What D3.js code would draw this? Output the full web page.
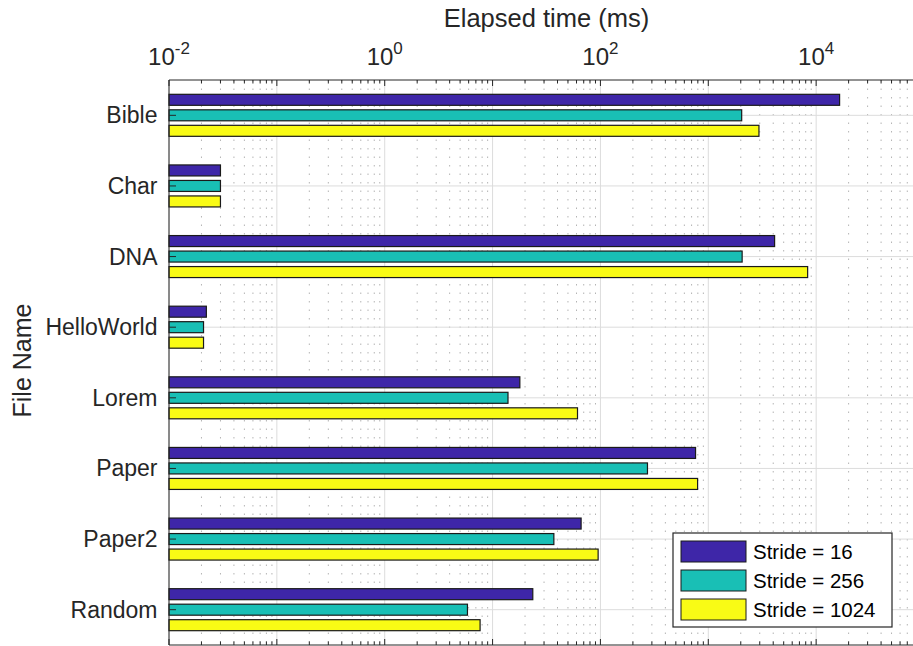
<!DOCTYPE html>
<html>
<head>
<meta charset="utf-8">
<script src="https://cdn.jsdelivr.net/npm/d3@7"></script>
<style>
  body { margin: 0; background: #fff; }
  svg { display: block; font-family: "Liberation Sans", Arial, sans-serif; }
</style>
</head>
<body>
<div id="chart"></div>
<script>
const files = ["Bible", "Char", "DNA", "HelloWorld", "Lorem", "Paper", "Paper2", "Random"];
const seriesNames = ["Stride = 16", "Stride = 256", "Stride = 1024"];
const stride16 = [16500, 0.030, 4120, 0.0222, 17.9, 762, 66.2, 23.6];
const stride256 = [2040, 0.030, 2060, 0.0209, 13.9, 273, 37, 5.85];
const stride1024 = [2950, 0.030, 8340, 0.0209, 61.3, 796, 95.2, 7.66];
const xTickExps = [-2, 0, 2, 4];

const colors = ["#3e26a8", "#19bfb5", "#f9fb15"];

const width = 913, height = 646;
const margin = { top: 80, left: 169, right: 924, bottom: 645 };

const svg = d3.select("#chart").append("svg")
  .attr("width", width)
  .attr("height", height);

const x = d3.scaleLog()
  .domain([1e-2, 1e5])
  .range([margin.left, margin.right]);

const y = d3.scaleBand()
  .domain(files)
  .range([margin.top, margin.bottom]);

const yInner = d3.scalePoint()
  .domain(seriesNames)
  .range([-15.5, 15.5]);

const barH = 11;

// grid: minor dotted, major solid
const minor = [];
for (let e = -2; e < 5; e++) {
  for (let m = 2; m <= 9; m++) minor.push(m * Math.pow(10, e));
}
const major = d3.range(-2, 6).map(e => Math.pow(10, e));

const grid = svg.append("g");
grid.selectAll(".minor")
  .data(minor)
  .join("line")
  .attr("x1", d => x(d)).attr("x2", d => x(d))
  .attr("y1", margin.top).attr("y2", margin.bottom)
  .attr("stroke", "#b4b4b4")
  .attr("stroke-width", 1)
  .attr("stroke-dasharray", "1.5,7");

grid.selectAll(".major")
  .data(major)
  .join("line")
  .attr("x1", d => x(d)).attr("x2", d => x(d))
  .attr("y1", margin.top).attr("y2", margin.bottom)
  .attr("stroke", "#dcdcdc")
  .attr("stroke-width", 1);

grid.selectAll(".hgrid")
  .data(files)
  .join("line")
  .attr("x1", margin.left).attr("x2", margin.right)
  .attr("y1", d => y(d) + y.bandwidth() / 2)
  .attr("y2", d => y(d) + y.bandwidth() / 2)
  .attr("stroke", "#dcdcdc")
  .attr("stroke-width", 1);

// bars
const table = [];
files.forEach((f, i) => {
  [stride16, stride256, stride1024].forEach((arr, j) => {
    table.push({ file: f, series: seriesNames[j], value: arr[i], k: j });
  });
});

svg.append("g")
  .selectAll("rect")
  .data(table)
  .join("rect")
  .attr("x", x(1e-2))
  .attr("y", d => y(d.file) + y.bandwidth() / 2 + yInner(d.series) - barH / 2)
  .attr("width", d => x(d.value) - x(1e-2))
  .attr("height", barH)
  .attr("fill", d => colors[d.k])
  .attr("stroke", "#1a1a1a")
  .attr("stroke-width", 1.2);

// axes frame
const axisColor = "#262626";
svg.append("line")
  .attr("x1", margin.left).attr("x2", margin.right)
  .attr("y1", margin.top).attr("y2", margin.top)
  .attr("stroke", axisColor);
svg.append("line")
  .attr("x1", margin.left).attr("x2", margin.right)
  .attr("y1", margin.bottom).attr("y2", margin.bottom)
  .attr("stroke", axisColor);
svg.append("line")
  .attr("x1", margin.left).attr("x2", margin.left)
  .attr("y1", margin.top).attr("y2", margin.bottom)
  .attr("stroke", axisColor);

// x ticks (top and bottom, inward)
[margin.top, margin.bottom].forEach(y0 => {
  const dir = y0 === margin.top ? 1 : -1;
  svg.append("g").selectAll("line")
    .data(minor)
    .join("line")
    .attr("x1", d => x(d)).attr("x2", d => x(d))
    .attr("y1", y0).attr("y2", y0 + dir * 3.5)
    .attr("stroke", axisColor);
  svg.append("g").selectAll("line")
    .data(major)
    .join("line")
    .attr("x1", d => x(d)).attr("x2", d => x(d))
    .attr("y1", y0).attr("y2", y0 + dir * 6)
    .attr("stroke", axisColor);
});

// y ticks
svg.append("g").selectAll("line")
  .data(files)
  .join("line")
  .attr("x1", margin.left).attr("x2", margin.left + 7)
  .attr("y1", d => y(d) + y.bandwidth() / 2)
  .attr("y2", d => y(d) + y.bandwidth() / 2)
  .attr("stroke", axisColor);

// x tick labels
const xl = svg.append("g").selectAll("text")
  .data(xTickExps)
  .join("text")
  .attr("x", d => x(Math.pow(10, d)))
  .attr("y", 65)
  .attr("text-anchor", "middle")
  .attr("font-size", "24px")
  .attr("fill", axisColor);
xl.append("tspan").text("10");
xl.append("tspan")
  .attr("font-size", "17px")
  .attr("dy", -11)
  .text(d => d);

// y tick labels
svg.append("g").selectAll("text")
  .data(files)
  .join("text")
  .attr("x", 157.5)
  .attr("y", d => y(d) + y.bandwidth() / 2)
  .attr("dy", "0.35em")
  .attr("text-anchor", "end")
  .attr("font-size", "23px")
  .attr("fill", axisColor)
  .text(d => d);

// axis titles
svg.append("text")
  .attr("x", (margin.left + margin.right) / 2)
  .attr("y", 27)
  .attr("text-anchor", "middle")
  .attr("font-size", "25.5px")
  .attr("fill", axisColor)
  .text("Elapsed time (ms)");

svg.append("text")
  .attr("transform", `translate(31,${(margin.top + margin.bottom) / 2 - 2}) rotate(-90)`)
  .attr("text-anchor", "middle")
  .attr("font-size", "25px")
  .attr("fill", axisColor)
  .text("File Name");

// legend
const legend = svg.append("g").attr("transform", "translate(673,533)");
legend.append("rect")
  .attr("width", 219).attr("height", 94)
  .attr("fill", "#fff")
  .attr("stroke", axisColor)
  .attr("stroke-width", 1.2);

seriesNames.forEach((s, i) => {
  legend.append("rect")
    .attr("x", 8).attr("y", 8 + i * 29)
    .attr("width", 65).attr("height", 21)
    .attr("fill", colors[i])
    .attr("stroke", "#1a1a1a");
  legend.append("text")
    .attr("x", 80).attr("y", 8 + i * 29 + 10.5)
    .attr("dy", "0.36em")
    .attr("font-size", "20.5px")
    .attr("fill", "#000")
    .text(s);
});
</script>
</body>
</html>
